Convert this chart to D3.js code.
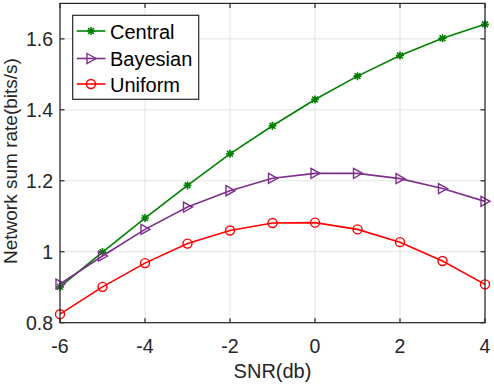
<!DOCTYPE html>
<html>
<head>
<meta charset="utf-8">
<script src="https://cdn.jsdelivr.net/npm/d3@7"></script>
<style>
  body { margin: 0; background: #fff; }
  svg { display: block; font-family: "Liberation Sans", Arial, Helvetica, sans-serif; }
</style>
</head>
<body>
<script>
// values
var snr = [-6, -5, -4, -3, -2, -1, 0, 1, 2, 3, 4];
var central  = [0.901, 0.999, 1.095, 1.187, 1.276, 1.355, 1.429, 1.495, 1.553, 1.602, 1.641];
var bayesian = [0.909, 0.988, 1.063, 1.126, 1.172, 1.207, 1.221, 1.221, 1.206, 1.178, 1.142];
var uniform  = [0.824, 0.901, 0.968, 1.023, 1.060, 1.081, 1.082, 1.063, 1.027, 0.974, 0.908];
var seriesNames = ["Central", "Bayesian", "Uniform"];
var xTicks = [-6, -4, -2, 0, 2, 4];
var yTicks = [0.8, 1, 1.2, 1.4, 1.6];

var W = 494, H = 386;
var pL = 60, pR = 485, pT = 3.4, pB = 322.7;
var axisCol = "#262626", gridCol = "#e3e3e3";

var x = d3.scaleLinear().domain([-6, 4]).range([pL, pR]);
var y = d3.scaleLinear().domain([0.8, 1.7]).range([pB, pT]);

var svg = d3.select("body").append("svg")
    .attr("width", W)
    .attr("height", H);

// grid
svg.append("g").selectAll("line").data(xTicks).join("line")
    .attr("x1", d => x(d)).attr("x2", d => x(d))
    .attr("y1", pT).attr("y2", pB)
    .attr("stroke", gridCol).attr("stroke-width", 1);
svg.append("g").selectAll("line").data(yTicks).join("line")
    .attr("x1", pL).attr("x2", pR)
    .attr("y1", d => y(d)).attr("y2", d => y(d))
    .attr("stroke", gridCol).attr("stroke-width", 1);

// series
var series = [
  {name: seriesNames[0], vals: central,  color: "#008000", marker: "star"},
  {name: seriesNames[1], vals: bayesian, color: "#7E2F8E", marker: "tri"},
  {name: seriesNames[2], vals: uniform,  color: "#FF0000", marker: "circle"}
];

function drawMarker(g, type, color) {
  if (type == "circle") {
    g.append("circle").attr("r", 4.5)
      .attr("fill", "none").attr("stroke", color).attr("stroke-width", 1.4);
  } else if (type == "tri") {
    g.append("path").attr("d", "M-4,-5L5,0L-4,5Z")
      .attr("fill", "none").attr("stroke", color).attr("stroke-width", 1.4);
  } else {
    var r = 4, q = 2.9;
    g.append("path")
      .attr("d", "M0," + -r + "V" + r + "M" + -r + ",0H" + r +
                 "M" + -q + "," + -q + "L" + q + "," + q + "M" + -q + "," + q + "L" + q + "," + -q)
      .attr("stroke", color).attr("stroke-width", 1.6);
  }
}

var line = d3.line().x((d, i) => x(snr[i])).y(d => y(d));

series.forEach(function(s) {
  svg.append("path").datum(s.vals)
    .attr("d", line)
    .attr("fill", "none")
    .attr("stroke", s.color)
    .attr("stroke-width", 1.6);
  s.vals.forEach(function(v, i) {
    var g = svg.append("g").attr("transform", "translate(" + x(snr[i]) + "," + y(v) + ")");
    drawMarker(g, s.marker, s.color);
  });
});

// box + ticks
svg.append("rect")
    .attr("x", pL).attr("y", pT)
    .attr("width", pR - pL).attr("height", pB - pT)
    .attr("fill", "none").attr("stroke", axisCol).attr("stroke-width", 1.2);

var tl = 4.5;
xTicks.forEach(function(t) {
  svg.append("line").attr("x1", x(t)).attr("x2", x(t)).attr("y1", pB).attr("y2", pB - tl)
    .attr("stroke", axisCol).attr("stroke-width", 1.2);
  svg.append("line").attr("x1", x(t)).attr("x2", x(t)).attr("y1", pT).attr("y2", pT + tl)
    .attr("stroke", axisCol).attr("stroke-width", 1.2);
});
yTicks.forEach(function(t) {
  svg.append("line").attr("x1", pL).attr("x2", pL + tl).attr("y1", y(t)).attr("y2", y(t))
    .attr("stroke", axisCol).attr("stroke-width", 1.2);
  svg.append("line").attr("x1", pR).attr("x2", pR - tl).attr("y1", y(t)).attr("y2", y(t))
    .attr("stroke", axisCol).attr("stroke-width", 1.2);
});

// tick labels
var fmt = d => String(d);
svg.append("g").selectAll("text").data(xTicks).join("text")
    .attr("x", d => x(d)).attr("y", 353)
    .attr("text-anchor", "middle")
    .attr("font-size", 19.5).attr("fill", axisCol)
    .text(d => d < 0 ? "-" + Math.abs(d) : fmt(d));
svg.append("g").selectAll("text").data(yTicks).join("text")
    .attr("x", 53).attr("y", d => y(d) + 7)
    .attr("text-anchor", "end")
    .attr("font-size", 19.5).attr("fill", axisCol)
    .text(fmt);

// axis labels
svg.append("text")
    .attr("x", (pL + pR) / 2).attr("y", 378)
    .attr("text-anchor", "middle")
    .attr("font-size", 20).attr("fill", axisCol)
    .text("SNR(db)");
svg.append("text")
    .attr("transform", "translate(16.5," + ((pT + pB) / 2 - 2) + ") rotate(-90)")
    .attr("text-anchor", "middle")
    .attr("font-size", 19).attr("fill", axisCol)
    .text("Network sum rate(bits/s)");

// legend
var leg = svg.append("g");
leg.append("rect")
    .attr("x", 72.7).attr("y", 15.3).attr("width", 126).attr("height", 84)
    .attr("fill", "#fff").attr("stroke", axisCol).attr("stroke-width", 1.2);
var rowY = [31, 58.5, 84];
series.forEach(function(s, i) {
  leg.append("line").attr("x1", 76.7).attr("x2", 105.5).attr("y1", rowY[i]).attr("y2", rowY[i])
    .attr("stroke", s.color).attr("stroke-width", 1.6);
  var g = leg.append("g").attr("transform", "translate(91," + rowY[i] + ")");
  drawMarker(g, s.marker, s.color);
  leg.append("text").attr("x", 110).attr("y", rowY[i] + 7.5)
    .attr("font-size", 20).attr("fill", "#000")
    .text(s.name);
});
</script>
</body>
</html>
